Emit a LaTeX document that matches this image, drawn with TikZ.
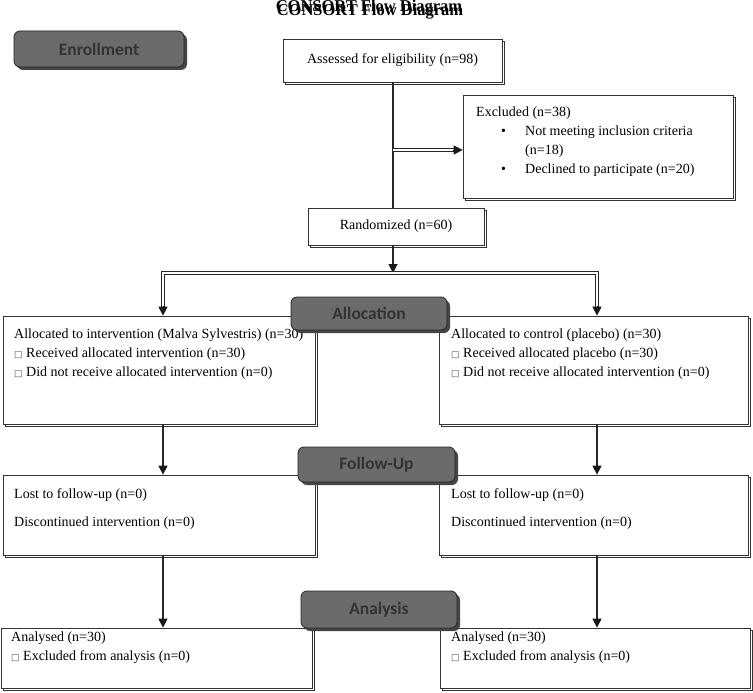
\documentclass[tikz,border=0pt]{standalone}
\usepackage{fontspec}
\setmainfont{Liberation Serif}
\newfontfamily\labfont{Carlito}
\newfontfamily\symfont{DejaVu Sans}
\usetikzlibrary{shadows,arrows.meta,calc}
\definecolor{labgray}{HTML}{6B6B6B}
\definecolor{labtext}{HTML}{333333}
\definecolor{labshadow}{HTML}{454545}
\newcommand{\chk}{{\symfont\fontsize{9}{9}\selectfont\color{black!70}□}\ }
\begin{document}
\begin{tikzpicture}[x=1pt,y=-1pt,
  box/.style={draw=black!80, line width=0.7pt, fill=white, inner sep=0pt,
    copy shadow={shadow xshift=2.5pt, shadow yshift=-2.5pt}},
  stage/.style={draw=black!85, line width=0.8pt, fill=labgray, rounded corners=6pt,
    inner sep=0pt, text=labtext, font=\labfont\bfseries\fontsize{17.5}{20}\selectfont,
    drop shadow={shadow xshift=3pt, shadow yshift=-3pt, fill=labshadow, opacity=1}},
  txt/.style={font=\fontsize{14}{16}\selectfont, inner sep=0pt, anchor=west},
  thickline/.style={line width=2.4pt, draw=black!85},
  dbl/.style={draw=black!85, line width=0.8pt, double=white, double distance=1.8pt},
  tip/.style={-{Triangle[length=9pt,width=9pt]}, line width=1pt, draw=black!90, fill=black!90},
  ttl/.style={font=\bfseries\fontsize{16.5}{18}\selectfont, inner sep=0pt}
]
\useasboundingbox (0,0) rectangle (753,693);

% title (printed twice, slightly offset, as in the source)
\node[ttl] (title1) at (369,7.5) {CONSORT Flow Diagram};
\node[ttl] (title2) at (370,12) {CONSORT Flow Diagram};

% boxes
\node[box, minimum width=219pt, minimum height=43pt, font=\fontsize{14}{16}\selectfont] (assess) at (392.5,60.5) {Assessed for eligibility (n=98)};
\node[box, minimum width=270pt, minimum height=103pt] (excl) at (598,146.5) {};
\node[box, minimum width=176pt, minimum height=37pt, font=\fontsize{14}{16}\selectfont] (rand) at (396,226.5) {Randomized (n=60)};
\node[box, minimum width=312pt, minimum height=108pt] (allocL) at (159,370) {};
\node[box, minimum width=309pt, minimum height=108pt] (allocR) at (593.5,370) {};
\node[box, minimum width=312pt, minimum height=80pt] (fuL) at (159,515) {};
\node[box, minimum width=309pt, minimum height=80pt] (fuR) at (593.5,515) {};
\node[box, minimum width=311pt, minimum height=60pt] (anL) at (156.5,658) {};
\node[box, minimum width=310pt, minimum height=60pt] (anR) at (595,658) {};

% texts
\node[txt] (ex1) at (476,113) {Excluded (n=38)};
\node[txt] (ex2b) at (501,132) {\textbullet};
\node[txt] (ex2) at (525,132) {Not meeting inclusion criteria};
\node[txt] (ex3) at (525,151) {(n=18)};
\node[txt] (ex4b) at (501,170) {\textbullet};
\node[txt] (ex4) at (525,170) {Declined to participate (n=20)};

\node[txt] (al1) at (14,335) {Allocated to intervention (Malva Sylvestris) (n=30)};
\node[txt] (al2) at (14,354) {\chk Received allocated intervention (n=30)};
\node[txt] (al3) at (14,373) {\chk Did not receive allocated intervention (n=0)};
\node[txt] (ar1) at (451,335) {Allocated to control (placebo) (n=30)};
\node[txt] (ar2) at (451,354) {\chk Received allocated placebo (n=30)};
\node[txt] (ar3) at (451,373) {\chk Did not receive allocated intervention (n=0)};

\node[txt] (fl1) at (14,495) {Lost to follow-up (n=0)};
\node[txt] (fl2) at (14,523) {Discontinued intervention (n=0)};
\node[txt] (fr1) at (451,495) {Lost to follow-up (n=0)};
\node[txt] (fr2) at (451,523) {Discontinued intervention (n=0)};

\node[txt] (nl1) at (11,638) {Analysed (n=30)};
\node[txt] (nl2) at (11,657) {\chk Excluded from analysis (n=0)};
\node[txt] (nr1) at (451,638) {Analysed (n=30)};
\node[txt] (nr2) at (451,657) {\chk Excluded from analysis (n=0)};

% stage labels
\node[stage, minimum width=170pt, minimum height=36pt] (enroll) at (99,49) {Enrollment};
\node[stage, minimum width=156pt, minimum height=33pt] (allocation) at (369,313.5) {Allocation};
\node[stage, minimum width=157pt, minimum height=35pt] (followup) at (376.5,464.5) {Follow-Up};
\node[stage, minimum width=156pt, minimum height=37pt] (analysis) at (379,609.5) {Analysis};

% coordinates
\coordinate (ex) at (393,150);
\coordinate (s1) at (393,273);
\coordinate (sL) at (163,273);
\coordinate (sR) at (597,273);

% connectors
\draw[thickline] (assess.south -| ex) -- (rand.north -| ex);
\draw[dbl] (ex) -- ($(excl.west |- ex)+(-7,0)$);
\draw[tip] ($(excl.west |- ex)+(-10,0)$) -- (excl.west |- ex);
\draw[thickline, shorten >=6pt] (rand.south -| s1) -- (s1);
\draw[tip] ($(s1)+(0,-10)$) -- (s1);
\draw[dbl] ($(allocL.north -| sL)+(0,-7)$) -- (sL) -- (sR) -- ($(allocR.north -| sR)+(0,-7)$);
\draw[tip] ($(allocL.north -| sL)+(0,-10)$) -- (allocL.north -| sL);
\draw[tip] ($(allocR.north -| sR)+(0,-10)$) -- (allocR.north -| sR);

\draw[thickline, shorten >=6pt] (allocL.south -| sL) -- (fuL.north -| sL);
\draw[tip] ($(fuL.north -| sL)+(0,-10)$) -- (fuL.north -| sL);
\draw[thickline, shorten >=6pt] (allocR.south -| sR) -- (fuR.north -| sR);
\draw[tip] ($(fuR.north -| sR)+(0,-10)$) -- (fuR.north -| sR);

\draw[thickline, shorten >=6pt] (fuL.south -| sL) -- (anL.north -| sL);
\draw[tip] ($(anL.north -| sL)+(0,-10)$) -- (anL.north -| sL);
\draw[thickline, shorten >=6pt] (fuR.south -| sR) -- (anR.north -| sR);
\draw[tip] ($(anR.north -| sR)+(0,-10)$) -- (anR.north -| sR);
\end{tikzpicture}
\end{document}
